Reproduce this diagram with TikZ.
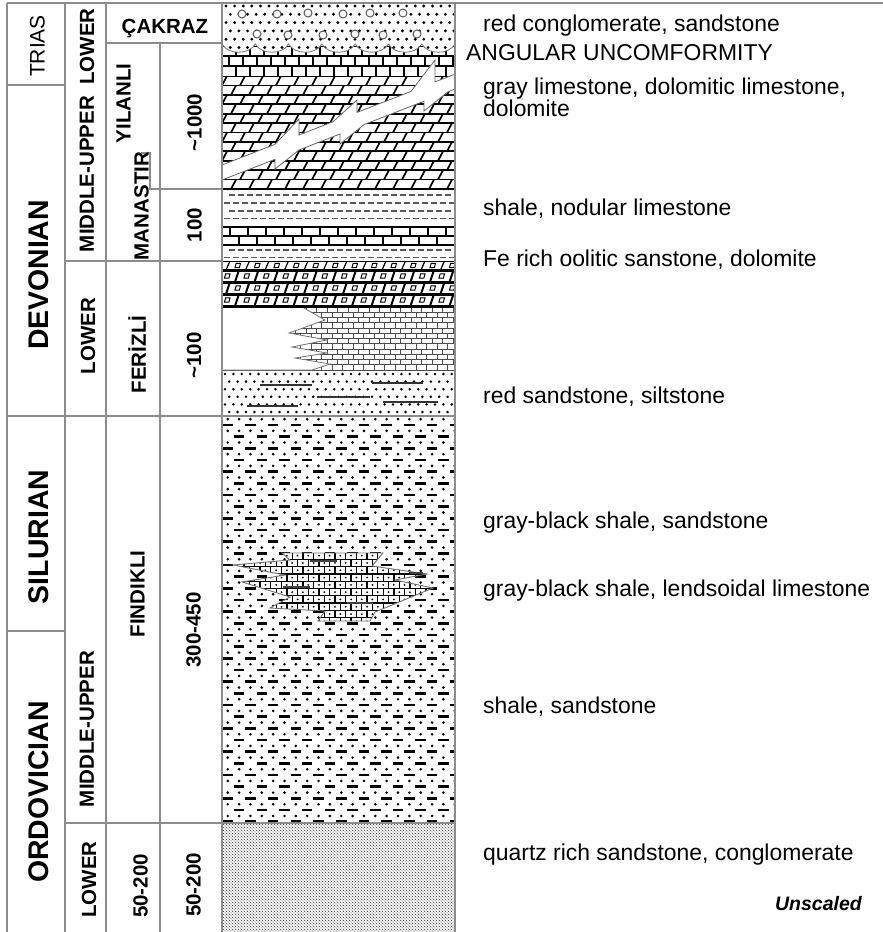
\documentclass[tikz,border=0pt]{standalone}
\usepackage{fontspec}
\setmainfont{Liberation Sans}
\usetikzlibrary{patterns}

% 石英砂岩的细点
\pgfdeclarepatternformonly{qzdots}{\pgfqpoint{-0.7pt}{-0.7pt}}{\pgfqpoint{2.7pt}{2.7pt}}{\pgfqpoint{3.4pt}{3.4pt}}{%
  \pgfpathcircle{\pgfqpoint{0pt}{0pt}}{.7pt}%
  \pgfpathcircle{\pgfqpoint{1.7pt}{1.7pt}}{.7pt}%
  \pgfusepath{fill}}

\tikzset{
  rule/.style={draw=black!45, line width=1.2pt},
  periodlab/.style={rotate=90, inner sep=0pt, font=\fontsize{28.4}{30}\selectfont\bfseries},
  unitlab/.style={rotate=90, inner sep=0pt, font=\fontsize{20.5}{22}\selectfont\bfseries},
  desc/.style={anchor=base west, inner sep=0pt, align=left, font=\fontsize{22.9}{22.6}\selectfont},
  brick/.style={line width=1.7pt, black},
  thinbrick/.style={line width=0.8pt, black!70},
}

\begin{document}
\begin{tikzpicture}[x=1pt, y=-1pt]
    \useasboundingbox (0,0) rectangle (883,932);
    % 岩性柱左右边界
    \def\Lx{222}
    \def\Rx{455}

    % 灰岩 (正砖)
    \begin{scope}
        \clip (\Lx,46) rectangle (\Rx,76);
        \foreach \r in {0,1,2} {
            \pgfmathsetmacro{\yt}{46+10*\r}
            \pgfmathsetmacro{\off}{7*mod(\r,2)}
            \draw[brick] (\Lx,\yt) -- (\Rx,\yt);
            \foreach \j in {0,...,17}
                \draw[brick] (\Lx+14*\j+\off,\yt) -- ++(0,10);
        }
    \end{scope}

    % 白云质灰岩 (斜砖)
    \begin{scope}
        \clip (\Lx,76) rectangle (\Rx,189);
        \foreach \r in {0,...,11} {
            \pgfmathsetmacro{\yt}{76+9.417*\r}
            \pgfmathsetmacro{\off}{9*mod(\r,2)}
            \draw[brick] (\Lx,\yt) -- (\Rx,\yt);
            \foreach \j in {-1,...,13}
                \draw[brick] (\Lx+18*\j+\off,\yt+9.417) -- ++(5,-9.417);
        }
        \draw[brick] (\Lx,189) -- (\Rx,189);
    \end{scope}

    % 相变锯齿带
    \filldraw[fill=white, draw=black!60, line width=0.8pt]
        (222,165) -- (275,144.3) -- (299,119) -- (299,135) -- (333,121.7)
        -- (357,100) -- (357,112.4) -- (411,91.4) -- (435,60) -- (435,81.9)
        -- (455,74.1) -- (455,89.1) -- (448,91.8) -- (424,111) -- (424,101.2)
        -- (364,124.6) -- (340,144) -- (340,134) -- (299,150) -- (275,169)
        -- (275,159.3) -- (222,180) -- cycle;

    % 砾岩, 底界波状
    \fill[white] (\Lx,3) -- (\Lx,44)
        \foreach \i in {1,...,7} { .. controls +(6,11) and +(-6,11) .. ++(33.286,0) }
        -- (\Rx,3) -- cycle;
    \begin{scope}
        \clip (\Lx,3) -- (\Lx,44)
            \foreach \i in {1,...,7} { .. controls +(6,11) and +(-6,11) .. ++(33.286,0) }
            -- (\Rx,3) -- cycle;
        \foreach \r in {0,...,6} {
            \pgfmathsetmacro{\off}{4.3*mod(\r,2)}
            \foreach \j in {0,...,27}
                \fill (\Lx+4+8.6*\j+\off,6+8.3*\r) circle (1.6);
        }
        \foreach \p in {(242,14),(277,14),(308,13),(343,14),(370,13),(403,13),
                        (257,34),(288,35),(323,35),(355,34),(383,35),(417,34)}
            \filldraw[fill=white, draw=black!65, line width=1pt] \p circle (4);
    \end{scope}
    \draw[black!55, line width=0.8pt] (\Lx,44)
        \foreach \i in {1,...,7} { .. controls +(6,11) and +(-6,11) .. ++(33.286,0) };

    % 页岩夹瘤状灰岩
    \begin{scope}
        \clip (\Lx,189) rectangle (\Rx,261);
        \foreach \y [count=\r] in {195,203,211,218.5,250,257.5} {
            \pgfmathsetmacro{\off}{4.5*mod(\r,2)}
            \foreach \j in {0,...,25}
                \draw[black!65, line width=1.6pt] (\Lx+2+9*\j+\off,\y) -- ++(6,0);
        }
        \draw[brick] (\Lx,227) -- (\Rx,227) (\Lx,236) -- (\Rx,236) (\Lx,245) -- (\Rx,245);
        \foreach \j in {0,...,13} {
            \draw[brick] (\Lx+8+18*\j,227) -- ++(0,9);
            \draw[brick] (\Lx+17+18*\j,236) -- ++(0,9);
        }
    \end{scope}

    % 细晶灰岩与尖灭的空白
    \begin{scope}
        \clip (\Lx,306) rectangle (\Rx,370);
        \foreach \r in {0,...,11} {
            \pgfmathsetmacro{\yt}{307+5.25*\r}
            \pgfmathsetmacro{\off}{5.25*mod(\r,2)}
            \draw[thinbrick] (\Lx,\yt) -- (\Rx,\yt);
            \foreach \j in {0,...,23}
                \draw[thinbrick] (\Lx+10.5*\j+\off,\yt) -- ++(0,5.25);
        }
        \draw[thinbrick] (\Lx,370) -- (\Rx,370);
    \end{scope}
    \filldraw[fill=white, draw=black!55, line width=0.8pt]
        (\Lx,307.5) -- (303,307.5) -- (325,320) -- (289,333) -- (327,340)
        -- (292,347) -- (327,353) -- (295,358) -- (330,364) -- (312,370)
        -- (\Lx,370) -- cycle;

    % 富铁鲕状砂岩, 白云岩
    \begin{scope}
        \clip (\Lx,261) rectangle (\Rx,308);
        \draw[black, line width=1pt] (\Lx,261) -- (\Rx,261);
        \foreach \yt/\h/\off/\w in {261/9/4/1.2, 270/12/13/2, 282/12/4/2, 294/12/13/2} {
            \foreach \j in {-1,...,12} {
                \draw[black, line width=\w pt] (\Lx+\off+19.5*\j,\yt+\h) -- ++(4,-\h);
                \pgfmathsetmacro{\cx}{\Lx+\off+19.5*\j+11.75}
                \pgfmathsetmacro{\cy}{\yt+\h/2}
                \draw[black, line width=1pt] (\cx-2.8,\cy+2.2) -- (\cx+1.6,\cy+2.2)
                    -- (\cx+2.8,\cy-2.2) -- (\cx-1.6,\cy-2.2) -- cycle;
            }
        }
        \foreach \y in {270,282,294,306}
            \draw[black, line width=3pt] (\Lx,\y) -- (\Rx,\y);
    \end{scope}

    % 红色砂岩, 粉砂岩
    \begin{scope}
        \clip (\Lx,371) rectangle (\Rx,416);
        \foreach \r in {0,...,5} {
            \pgfmathsetmacro{\off}{4.2*mod(\r,2)}
            \foreach \j in {0,...,27}
                \fill (\Lx+3+8.4*\j+\off,374+7.6*\r) circle (1.4);
        }
    \end{scope}
    \draw[black!80, line width=1.6pt] (260,385) -- (312,385) (372,383) -- (423,383)
        (317,397) -- (370,397) (247,406) -- (298,406) (383,402) -- (438,402);

    % 页岩, 砂岩
    \begin{scope}
        \clip (\Lx,416) rectangle (\Rx,823);
        \foreach \r in {0,...,35} {
            \pgfmathsetmacro{\yr}{425+11.67*\r}
            \pgfmathsetmacro{\off}{11.35*mod(\r,2)}
            \foreach \j in {-1,...,10}
                \draw[black, line width=2.7pt] (\Lx+0.5+22.7*\j+\off,\yr) -- ++(10.5,0);
            \foreach \j in {0,...,20}
                \fill (\Lx+5.75+11.35*\j,\yr-5.83) circle (1.45);
        }
    \end{scope}

    % 透镜状灰岩
    \begin{scope}
        \clip (282,553) -- (383,553) -- (372,566) -- (427,574) -- (395,580)
            -- (433,588) -- (375,612) -- (370,621) -- (318,621) -- (325,611)
            -- (270,608) -- (290,597) -- (242,582) -- (285,575) -- (233,565)
            -- (290,560) -- cycle;
        \fill[white] (228,550) rectangle (440,625);
        \foreach \r in {0,...,9} {
            \pgfmathsetmacro{\yt}{552+7.3*\r}
            \pgfmathsetmacro{\off}{5.35*mod(\r,2)}
            \draw[black, line width=1.3pt] (228,\yt) -- (440,\yt);
            \foreach \j in {0,...,20} {
                \draw[black, line width=1.3pt] (228+10.7*\j+\off,\yt) -- ++(0,7.3);
                \fill (233.35+10.7*\j+\off,\yt+3.65) circle (1);
            }
        }
    \end{scope}
    \draw[black!55, line width=0.9pt] (282,553) -- (383,553) -- (372,566) -- (427,574)
        -- (395,580) -- (433,588) -- (375,612) -- (370,621) -- (318,621) -- (325,611)
        -- (270,608) -- (290,597) -- (242,582) -- (285,575) -- (233,565)
        -- (290,560) -- cycle;
    \draw[black!75, line width=2.4pt] (310,561) -- (337,561) (283,587) -- (310,587)
        (347,603) -- (373,603) (410,573) -- (423,573);

    % 石英砂岩
    \fill[pattern=qzdots, pattern color=black!75] (\Lx,823) rectangle (\Rx,932);

    % 表格线
    \draw[rule] (7,3) -- (883,3);
    \draw[rule] (7,3) -- (7,932) (65,3) -- (65,932) (106,3) -- (106,932)
        (160,43) -- (160,932) (\Lx,3) -- (\Lx,932) (\Rx,3) -- (\Rx,932);
    \draw[rule] (7,85) -- (65,85);
    \draw[rule] (106,43) -- (\Lx,43);
    \draw[rule] (141,153) -- (150,153) -- (150,189) -- (\Lx,189);
    \draw[rule] (65,261) -- (\Lx,261);
    \draw[rule] (7,416) -- (\Rx,416);
    \draw[rule] (7,631) -- (65,631);
    \draw[rule] (65,823) -- (\Rx,823);

    % 系
    \node[rotate=90, inner sep=0pt, font=\fontsize{21}{22}\selectfont] (trias) at (37.5,46) {TRIAS};
    \node[periodlab] (devonian) at (39,275) {DEVONIAN};
    \node[periodlab] (silurian) at (39,537) {SILURIAN};
    \node[periodlab] (ordovician) at (39,792) {ORDOVICIAN};

    % 统
    \node[unitlab] (triasLow) at (87,46.5) {LOWER};
    \node[unitlab] (devMU) at (87,174) {MIDDLE-UPPER};
    \node[unitlab] (devLow) at (88,336) {LOWER};
    \node[unitlab] (ordMU) at (87,729) {MIDDLE-UPPER};
    \node[unitlab] (ordLow) at (89,879.5) {LOWER};

    % 组
    \node[anchor=base, inner sep=0pt, font=\fontsize{20.5}{22}\selectfont\bfseries] (cakraz) at (165,33) {ÇAKRAZ};
    \node[unitlab] (yilanli) at (123.5,103.5) {YILANLI};
    \node[unitlab] (manastir) at (141.5,206) {MANASTIR};
    \node[unitlab] (ferizli) at (137,354.5) {FERİZLİ};
    \node[unitlab] (findikli) at (137.5,594) {FINDIKLI};
    \node[unitlab] (ordLowFm) at (140.5,886) {50-200};

    % 厚度
    \node[unitlab] (thYil) at (194.5,122.5) {\textasciitilde 1000};
    \node[unitlab] (thMan) at (194.5,225) {100};
    \node[unitlab] (thFer) at (194,355.5) {\textasciitilde 100};
    \node[unitlab] (thFin) at (193.5,630) {300-450};
    \node[unitlab] (thOrd) at (193.5,885) {50-200};

    % 岩性描述
    \node[desc] (dCong) at (483,31) {red conglomerate, sandstone};
    \node[desc] (dUnconf) at (466,60.7) {ANGULAR UNCOMFORMITY};
    \node[desc] (dLime) at (483,116.7) {gray limestone, dolomitic limestone,\\dolomite};
    \node[desc] (dShale) at (483,215) {shale, nodular limestone};
    \node[desc] (dFe) at (483,266.7) {Fe rich oolitic sanstone, dolomite};
    \node[desc] (dRed) at (483,403) {red sandstone, siltstone};
    \node[desc] (dGb) at (483,528) {gray-black shale, sandstone};
    \node[desc] (dLens) at (483,596) {gray-black shale, lendsoidal limestone};
    \node[desc] (dSh) at (483,713) {shale, sandstone};
    \node[desc] (dQz) at (483,860.7) {quartz rich sandstone, conglomerate};
    \node[anchor=base east, inner sep=0pt, font=\fontsize{19.5}{21}\selectfont\bfseries\itshape] (unscaled) at (862,910.7) {Unscaled};
\end{tikzpicture}
\end{document}
